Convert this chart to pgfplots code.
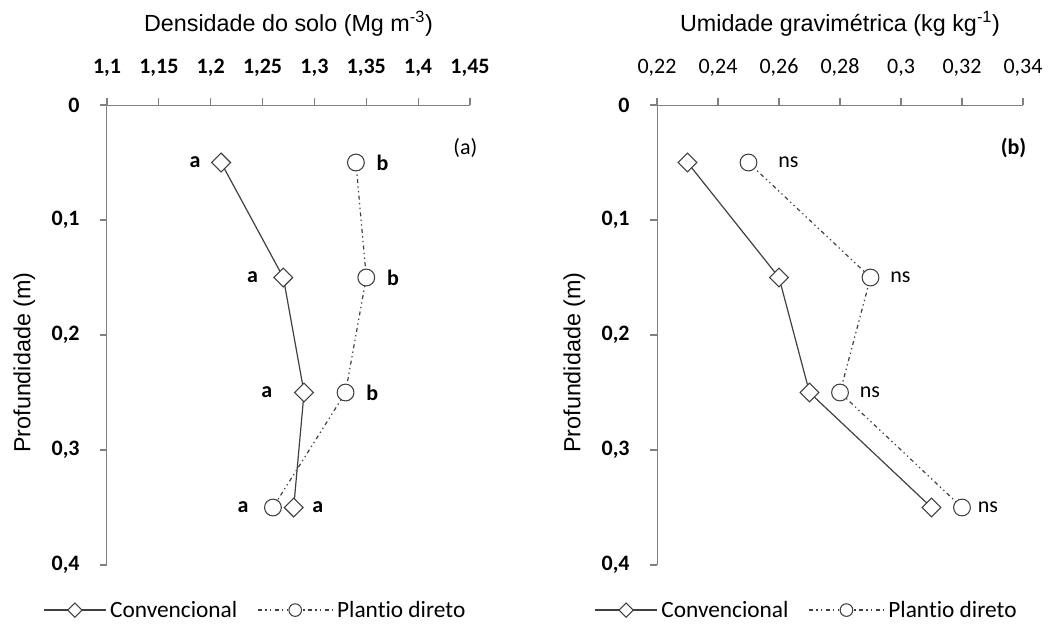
\documentclass[border=0pt]{standalone}
\usepackage{fontspec}
\setmainfont{Liberation Sans}
\newfontfamily\carlito[Ligatures=NoCommon]{Carlito}
\usepackage{pgfplots}
\pgfplotsset{compat=1.18}

\definecolor{axisgray}{HTML}{808080}
\definecolor{linegray}{HTML}{404040}

\newcommand{\tickfont}{\carlito\bfseries\fontsize{16.5}{19}\selectfont}
\newcommand{\tickfontreg}{\carlito\fontsize{16.5}{19}\selectfont}
\newcommand{\legfont}{\carlito\fontsize{17.5}{19}\selectfont}
\newcommand{\labfont}{\fontsize{17.5}{19}\selectfont}

\pgfplotsset{
  soil/.style={
    scale only axis,
    height=345pt,
    y dir=reverse,
    ymin=0, ymax=0.4,
    ytick={0,0.1,0.2,0.3,0.4},
    yticklabels={0,{0,1},{0,2},{0,3},{0,4}},
    axis x line*=top,
    axis y line*=left,
    axis line style={-, axisgray, line width=0.75pt},
    tick style={axisgray, line width=0.8pt},
    tick align=outside,
    major tick length=5pt,
    yticklabel style={font=\tickfont, text=black, xshift=-12pt},
    ylabel={Profundidade (m)},
    ylabel style={font=\labfont, at={(axis description cs:0,0.44)}, anchor=center, yshift=62pt},
    xlabel style={font=\labfont, at={(axis description cs:0.5,1)}, anchor=center, yshift=61pt},
    clip=false,
    legend style={draw=none, fill=none, legend columns=2, font=\legfont,
      /tikz/every odd column/.append style={column sep=1pt},
      /tikz/every even column/.append style={column sep=13pt},
      legend cell align=left},
  },
  conv/.style={linegray, line width=0.9pt, mark=square*, mark size=5pt,
    mark options={solid, rotate=45, fill=white, draw=linegray, line width=0.8pt},
    legend image code/.code={
      \draw[##1, /tikz/every mark/.append style={scale=0.75}, mark repeat=2, mark phase=2]
        plot coordinates {(0pt,0pt) (23pt,0pt) (46pt,0pt)};}},
  pd/.style={linegray, line width=0.9pt, dash pattern=on 3pt off 2.5pt on 1pt off 2.5pt on 1pt off 2.5pt,
    mark=*, mark size=6.3pt,
    mark options={solid, fill=white, draw=linegray, line width=0.8pt},
    legend image code/.code={
      \draw[##1, /tikz/every mark/.append style={scale=0.75}, mark repeat=2, mark phase=2]
        plot coordinates {(0pt,0pt) (28pt,0pt) (56pt,0pt)};}},
}

\begin{document}
\begin{tikzpicture}
\useasboundingbox (0,0) rectangle (795pt,-468.75pt);

% ---------- panel (a)
\begin{axis}[soil,
  at={(80.25pt,-78.75pt)}, anchor=north west,
  width=272.25pt,
  xmin=1.1, xmax=1.45,
  xtick={1.1,1.15,1.2,1.25,1.3,1.35,1.4,1.45},
  xticklabels={{1,1},{1,15},{1,2},{1,25},{1,3},{1,35},{1,4},{1,45}},
  xticklabel style={font=\tickfont, text=black, yshift=13pt},
  xlabel={Densidade do solo (Mg m\textsuperscript{-3})},
  legend style={at={(axis description cs:0.41,-0.098)}, anchor=center},
]
\addplot[conv]
  coordinates {(1.21,0.05) (1.27,0.15) (1.29,0.25) (1.28,0.35)};
\addlegendentry{Convencional}
\addplot[pd]
  coordinates {(1.34,0.05) (1.35,0.15) (1.33,0.25) (1.26,0.35)};
\addlegendentry{Plantio direto}

\node[font=\tickfont, xshift=-19.5pt] at (axis cs:1.21,0.05) {a};
\node[font=\tickfont, xshift=-23pt]   at (axis cs:1.27,0.15) {a};
\node[font=\tickfont, xshift=-28pt]   at (axis cs:1.29,0.25) {a};
\node[font=\tickfont, xshift=-22.5pt] at (axis cs:1.26,0.35) {a};
\node[font=\tickfont, xshift=18pt]    at (axis cs:1.28,0.35) {a};
\node[font=\tickfont, xshift=20pt]    at (axis cs:1.34,0.05) {b};
\node[font=\tickfont, xshift=20pt]    at (axis cs:1.35,0.15) {b};
\node[font=\tickfont, xshift=20pt]    at (axis cs:1.33,0.25) {b};
\node[font=\tickfontreg, anchor=east, xshift=9pt] at (axis cs:1.45,0.037) {(a)};
\end{axis}

% ---------- panel (b)
\begin{axis}[soil,
  at={(492.75pt,-78.75pt)}, anchor=north west,
  width=274.5pt,
  xmin=0.22, xmax=0.34,
  xtick={0.22,0.24,0.26,0.28,0.30,0.32,0.34},
  xticklabels={{0,22},{0,24},{0,26},{0,28},{0,3},{0,32},{0,34}},
  xticklabel style={font=\tickfontreg, text=black, yshift=13pt},
  xlabel={Umidade gravimétrica (kg kg\textsuperscript{-1})},
  legend style={at={(axis description cs:0.41,-0.098)}, anchor=center},
]
\addplot[conv]
  coordinates {(0.23,0.05) (0.26,0.15) (0.27,0.25) (0.31,0.35)};
\addlegendentry{Convencional}
\addplot[pd]
  coordinates {(0.25,0.05) (0.29,0.15) (0.28,0.25) (0.32,0.35)};
\addlegendentry{Plantio direto}

\node[font=\tickfontreg, xshift=30pt]   at (axis cs:0.25,0.05) {ns};
\node[font=\tickfontreg, xshift=22.5pt] at (axis cs:0.29,0.15) {ns};
\node[font=\tickfontreg, xshift=22.5pt] at (axis cs:0.28,0.25) {ns};
\node[font=\tickfontreg, xshift=19.5pt] at (axis cs:0.32,0.35) {ns};
\node[font=\tickfont, anchor=east, xshift=6pt] at (axis cs:0.34,0.037) {(b)};
\end{axis}
\end{tikzpicture}
\end{document}
